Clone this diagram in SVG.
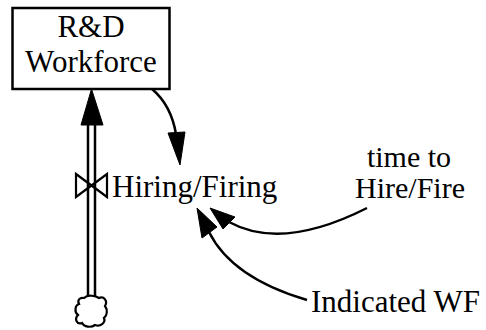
<svg xmlns="http://www.w3.org/2000/svg" width="486" height="330" viewBox="0 0 486 330">
<style>
text{font-family:'Liberation Serif','DejaVu Serif','Noto Serif',serif}
.t{font-size:31px;fill:#000}
.s{font-size:30px}
.ln{fill:none;stroke:#000;stroke-width:2.5}
.ah{fill:#000;stroke:#000;stroke-width:1;stroke-linejoin:round}
</style>
<rect width="486" height="330" fill="#fff"/>
<g id="connectors">
  <line class="ln" x1="88" y1="124" x2="88" y2="298"/>
  <line class="ln" x1="95" y1="124" x2="95" y2="298"/>
  <polygon class="ah" points="91.5,89 81,125 103,125"/>
  <path class="ln" d="M152,89 Q171,105 176,134"/>
  <polygon class="ah" points="180,165 168,133 185,132"/>
  <path class="ln" d="M367,208 Q282,251 229,222"/>
  <polygon class="ah" points="210,208 223,229 235,217"/>
  <path class="ln" d="M307,300 Q232,278 209,232"/>
  <polygon class="ah" points="197,208 202,238 217,227"/>
</g>
<g id="workforce">
  <rect x="12.5" y="8" width="157" height="81" fill="#fff" stroke="#000" stroke-width="2.5"/>
  <text class="t" x="91" y="37" text-anchor="middle">R&amp;D</text>
  <text class="t" x="91" y="72" text-anchor="middle">Workforce</text>
</g>
<g id="hiring">
  <path d="M76,174 L107,197 L107,174 L76,197 Z" fill="none" stroke="#000" stroke-width="2.2" stroke-linejoin="miter"/>
  <text class="t" x="112" y="197">Hiring/Firing</text>
</g>
<g id="source">
  <path d="M84,298 C88,294 96,296 99,298 C104,296 108,301 105,306 C108,310 107,316 104,318 C106,323 100,327 95,325 C91,328 84,327 82,323 C77,325 74,319 78,315 C74,312 75,305 79,304 C77,300 80,297 84,298 Z" fill="#fff" stroke="#000" stroke-width="2.2"/>
</g>
<g id="time">
  <text class="t s" x="409" y="167" text-anchor="middle">time to</text>
  <text class="t s" x="410" y="198" text-anchor="middle">Hire/Fire</text>
</g>
<g id="indicated">
  <text class="t" x="311" y="312">Indicated WF</text>
</g>
</svg>
